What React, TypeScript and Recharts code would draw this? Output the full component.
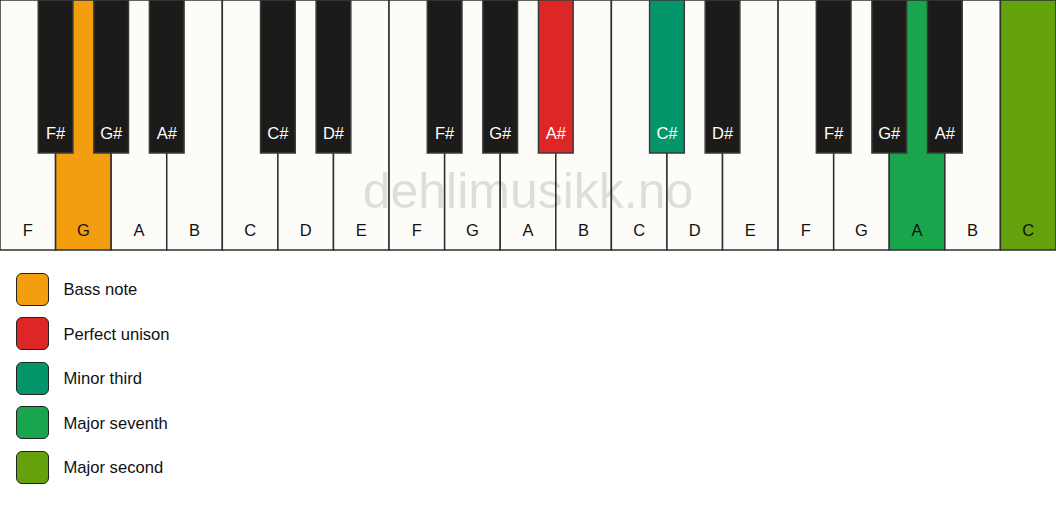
import React from 'react';
import { ComposedChart, XAxis, YAxis, ReferenceArea, Legend } from 'recharts';

const whiteNotes = ['F', 'G', 'A', 'B', 'C', 'D', 'E', 'F', 'G', 'A', 'B', 'C', 'D', 'E', 'F', 'G', 'A', 'B', 'C'];
const whiteHighlights: Record<number, string> = { 1: '#F39E0E', 16: '#19A54D', 18: '#63A10D' };

const blackNotes = ['F#', 'G#', 'A#', 'C#', 'D#', 'F#', 'G#', 'A#', 'C#', 'D#', 'F#', 'G#', 'A#'];
const blackBoundaries = [1, 2, 3, 5, 6, 8, 9, 10, 12, 13, 15, 16, 17];
const blackHighlights: Record<number, string> = { 10: '#DD2626', 12: '#04966B' };

const legendLabels = ['Bass note', 'Perfect unison', 'Minor third', 'Major seventh', 'Major second'];
const legendColors = ['#F39E0E', '#DD2626', '#04966B', '#19A54D', '#63A10D'];

const watermark = 'dehlimusikk.no';

const FONT = '"Liberation Sans", Arial, Helvetica, sans-serif';
const BLACK_HALF = 0.312;
const BLACK_BOTTOM = 0.388;

const whiteKeys = whiteNotes.map((n, i) => ({ note: n, x: i + 0.5, color: whiteHighlights[i] || '#FDFCF8' }));
const blackKeys = blackNotes.map((n, i) => ({
  note: n,
  pos: blackBoundaries[i],
  color: blackHighlights[blackBoundaries[i]] || '#1C1B1A',
}));

const LegendContent = () => (
  <div style={{ fontFamily: FONT }}>
    {legendLabels.map((label, i) => (
      <div key={label} style={{ display: 'flex', alignItems: 'center', height: 34, marginBottom: 10.5 }}>
        <div
          style={{
            width: 31,
            height: 31,
            background: legendColors[i],
            border: '1.5px solid #222',
            borderRadius: 6,
            flexShrink: 0,
          }}
        />
        <span style={{ marginLeft: 14.5, fontSize: 16.6, color: '#111', position: 'relative', top: 1 }}>{label}</span>
      </div>
    ))}
  </div>
);

export default function App() {
  return (
    <div style={{ width: 1056, height: 506, background: '#fff' }}>
      <style>{'body{margin:0;}'}</style>
      <ComposedChart
        width={1056}
        height={506}
        data={whiteKeys}
        margin={{ top: 0, right: 0, left: 0, bottom: 256 }}
      >
        <XAxis type="number" dataKey="x" domain={[0, 19]} hide allowDataOverflow />
        <YAxis type="number" domain={[0, 1]} hide allowDataOverflow />
        {whiteKeys.map((k, i) => (
          <ReferenceArea
            key={'w' + i}
            x1={i}
            x2={i + 1}
            y1={0}
            y2={1}
            fill={k.color}
            fillOpacity={1}
            stroke="#2f2f2f"
            strokeWidth={1.5}
            ifOverflow="visible"
            label={{
              value: k.note,
              position: 'insideBottom',
              offset: 14,
              fill: '#111',
              fontSize: 16.5,
              fontFamily: FONT,
            }}
          />
        ))}
        <ReferenceArea
          x1={0}
          x2={19}
          y1={0}
          y2={1}
          fill="none"
          fillOpacity={0}
          stroke="none"
          ifOverflow="visible"
          label={{
            value: watermark,
            position: 'insideBottom',
            offset: 42,
            fill: '#000',
            fillOpacity: 0.12,
            fontSize: 50,
            fontFamily: FONT,
          }}
        />
        {blackKeys.map((k, i) => (
          <ReferenceArea
            key={'b' + i}
            x1={k.pos - BLACK_HALF}
            x2={k.pos + BLACK_HALF}
            y1={BLACK_BOTTOM}
            y2={1}
            fill={k.color}
            fillOpacity={1}
            stroke="#3a3a3a"
            strokeWidth={1.5}
            ifOverflow="visible"
            label={{
              value: k.note,
              position: 'insideBottom',
              offset: 14,
              fill: '#fff',
              fontSize: 16.5,
              fontFamily: FONT,
            }}
          />
        ))}
        <Legend
          verticalAlign="middle"
          align="center"
          layout="horizontal"
          content={<LegendContent />}
          wrapperStyle={{ position: 'absolute', top: 272, left: 16, width: 300, bottom: 'auto' }}
        />
      </ComposedChart>
    </div>
  );
}
